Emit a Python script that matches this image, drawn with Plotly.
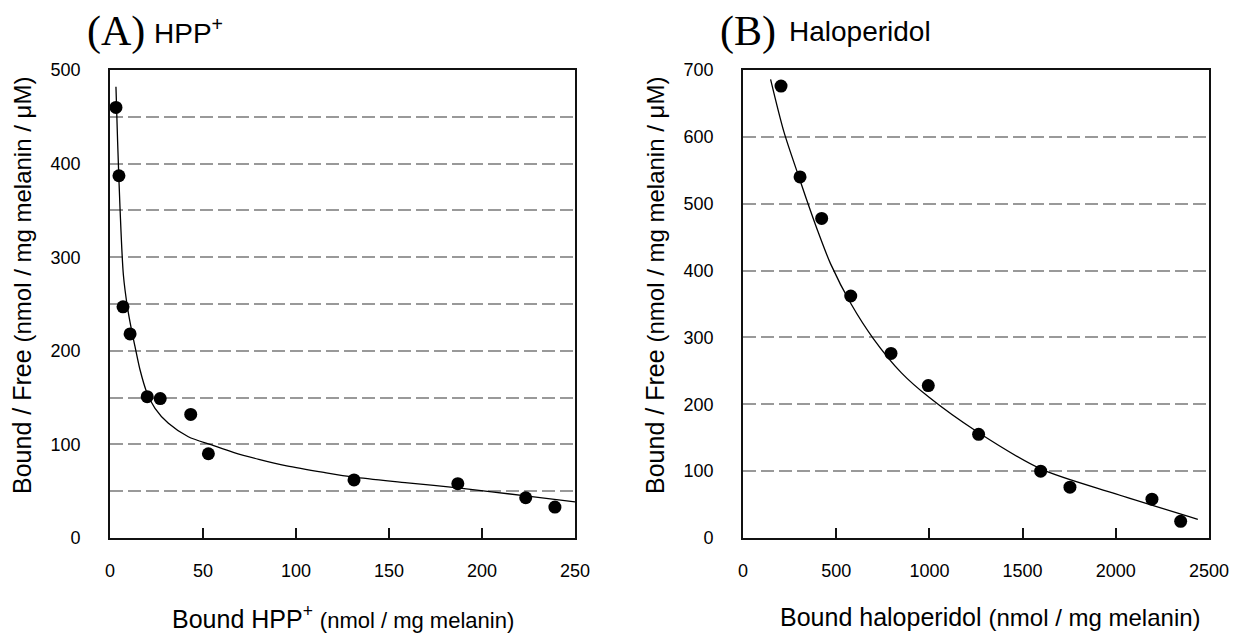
import plotly.graph_objects as go

# ---------------- data ----------------
# Panel A: HPP+
hpp_bound = [3.2, 4.8, 7.0, 10.8, 20.0, 27.0, 43.4, 52.9, 131.2, 187.0, 223.5, 239.2]
hpp_bf = [460, 387, 247, 218, 151, 149, 132, 90, 62, 58, 43, 33]
hpp_fit_x = [3.2, 4.1, 5.4, 7.2, 9.5, 11.6, 13.4, 16.1, 19.7, 24.2, 31.4, 42.1, 54.7, 66.3, 80, 95, 115, 131, 160, 187, 223.5, 250]
hpp_fit_y = [482, 423, 352, 281, 245, 222, 205, 180, 156, 138.6, 122.5, 108.2, 99.4, 91.5, 84, 77, 70, 65, 59, 53.5, 45, 38.5]

# Panel B: haloperidol
hal_bound = [204, 306, 422, 578, 794, 994, 1264, 1597, 1754, 2194, 2348]
hal_bf = [676, 540, 478, 362, 276, 228, 155, 100, 76, 58, 25]
hal_fit_x = [148, 220, 306, 340, 400, 470, 580, 700, 850, 1000, 1250, 1600, 2000, 2440]
hal_fit_y = [686, 607, 535, 507, 460, 410, 350, 298, 247, 210, 160, 103, 66, 28]

xticks_a = [0, 50, 100, 150, 200, 250]
xticks_b = [0, 500, 1000, 1500, 2000, 2500]
ygrid_a = [0, 50, 100, 150, 200, 250, 300, 350, 400, 450, 500]
ylabels_a = ["0", "", "100", "", "200", "", "300", "", "400", "", "500"]
yticks_b = [0, 100, 200, 300, 400, 500, 600, 700]

SANS = "Liberation Sans, Arial, sans-serif"
SERIF = "Liberation Serif, Times New Roman, serif"
W, H = 1242, 644

fig = go.Figure()

marker = dict(color="black", size=13)
fit_line = dict(color="black", width=1.3, shape="spline", smoothing=0.8)

fig.add_trace(go.Scatter(x=hpp_fit_x, y=hpp_fit_y, mode="lines", line=fit_line,
                         xaxis="x", yaxis="y", showlegend=False))
fig.add_trace(go.Scatter(x=hpp_bound, y=hpp_bf, mode="markers", marker=marker,
                         xaxis="x", yaxis="y", showlegend=False))
fig.add_trace(go.Scatter(x=hal_fit_x, y=hal_fit_y, mode="lines", line=fit_line,
                         xaxis="x2", yaxis="y2", showlegend=False))
fig.add_trace(go.Scatter(x=hal_bound, y=hal_bf, mode="markers", marker=marker,
                         xaxis="x2", yaxis="y2", showlegend=False))

# plot areas in pixels
A_left, A_right = 110, 575
B_left, B_right = 743, 1209
P_top, P_bot = 70, 538

def px(v):
    return v / W

def py(v):
    return 1 - v / H

axis_common = dict(showline=True, linecolor="#111111", linewidth=1.6, mirror=True,
                   zeroline=False, automargin=False,
                   tickfont=dict(family=SANS, size=18, color="black"))
xcommon = dict(axis_common, ticks="inside", ticklen=10, tickwidth=1.5, tickcolor="#111111",
               showgrid=False, ticklabelstandoff=16)
ycommon = dict(axis_common, ticks="", showgrid=True, gridcolor="#999999", gridwidth=2,
               griddash="13px,5px", ticklabelstandoff=24)

fig.update_layout(
    template="none",
    width=W, height=H, autosize=False,
    margin=dict(l=0, r=0, t=0, b=0, pad=0, autoexpand=False),
    paper_bgcolor="white", plot_bgcolor="white",
    xaxis=dict(xcommon, domain=[px(A_left), px(A_right)], range=[0, 250],
               tickvals=xticks_a, anchor="y"),
    yaxis=dict(ycommon, domain=[py(P_bot), py(P_top)], range=[0, 500],
               tickvals=ygrid_a, ticktext=ylabels_a, anchor="x"),
    xaxis2=dict(xcommon, domain=[px(B_left), px(B_right)], range=[0, 2500],
                tickvals=xticks_b, anchor="y2"),
    yaxis2=dict(ycommon, domain=[py(P_bot), py(P_top)], range=[0, 700],
                tickvals=yticks_b, anchor="x2"),
)

ann = []
# panel titles
ann.append(dict(text="(A)", x=px(85), y=py(32), xref="paper", yref="paper",
                xanchor="left", yanchor="middle", showarrow=False,
                font=dict(family=SERIF, size=42, color="black")))
ann.append(dict(text="HPP<sup>+</sup>", x=px(152), y=py(31), xref="paper", yref="paper",
                xanchor="left", yanchor="middle", showarrow=False,
                font=dict(family=SANS, size=28, color="black")))
ann.append(dict(text="(B)", x=px(718), y=py(32), xref="paper", yref="paper",
                xanchor="left", yanchor="middle", showarrow=False,
                font=dict(family=SERIF, size=42, color="black")))
ann.append(dict(text="Haloperidol", x=px(787), y=py(31), xref="paper", yref="paper",
                xanchor="left", yanchor="middle", showarrow=False,
                font=dict(family=SANS, size=28, color="black")))

# x axis titles
ann.append(dict(text="Bound HPP<sup>+</sup> <span style='font-size:22px'>(nmol / mg melanin)</span>",
                x=px(343), y=py(617), xref="paper", yref="paper",
                xanchor="center", yanchor="middle", showarrow=False,
                font=dict(family=SANS, size=25, color="black")))
ann.append(dict(text="Bound haloperidol <span style='font-size:24px'>(nmol / mg melanin)</span>",
                x=px(990), y=py(617), xref="paper", yref="paper",
                xanchor="center", yanchor="middle", showarrow=False,
                font=dict(family=SANS, size=25, color="black")))

# y axis titles
ytitle = "Bound / Free <span style='font-size:24px'>(nmol / mg melanin / μM)</span>"
ann.append(dict(text=ytitle, x=px(22), y=py(286), xref="paper", yref="paper",
                xanchor="center", yanchor="middle", showarrow=False, textangle=-90,
                font=dict(family=SANS, size=25, color="black")))
ann.append(dict(text=ytitle, x=px(655), y=py(286), xref="paper", yref="paper",
                xanchor="center", yanchor="middle", showarrow=False, textangle=-90,
                font=dict(family=SANS, size=25, color="black")))

fig.update_layout(annotations=ann)

fig.write_html("out.html",
               post_script="document.body.style.margin='0';document.body.style.overflow='hidden';")
